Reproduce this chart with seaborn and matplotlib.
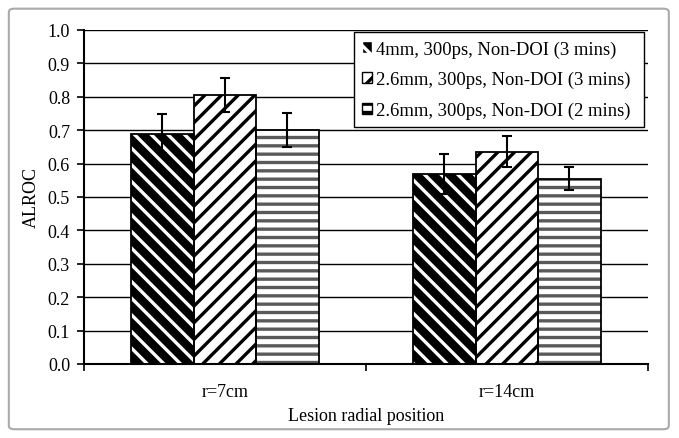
import numpy as np
import pandas as pd
import seaborn as sns
import matplotlib
matplotlib.use("Agg")
import matplotlib.pyplot as plt
import matplotlib.patches as patches
from matplotlib.ticker import FixedLocator

positions = ["r=7cm", "r=14cm"]
settings = ["4mm, 300ps, Non-DOI (3 mins)",
            "2.6mm, 300ps, Non-DOI (3 mins)",
            "2.6mm, 300ps, Non-DOI (2 mins)"]
# ALROC per setting, one value per position
alroc_4mm_3min = [0.69, 0.57]
alroc_26mm_3min = [0.805, 0.636]
alroc_26mm_2min = [0.70, 0.555]
# error bar half-widths
err_4mm_3min = [0.058, 0.06]
err_26mm_3min = [0.05, 0.046]
err_26mm_2min = [0.05, 0.035]
yticks = [0.0, 0.1, 0.2, 0.3, 0.4, 0.5, 0.6, 0.7, 0.8, 0.9, 1.0]

values = [alroc_4mm_3min, alroc_26mm_3min, alroc_26mm_2min]
errors = [err_4mm_3min, err_26mm_3min, err_26mm_2min]

df = pd.DataFrame({
    "position": positions * 3,
    "setting": [s for s in settings for _ in positions],
    "alroc": [v for vals in values for v in vals],
})

plt.rcParams["font.family"] = ["Liberation Serif", "DejaVu Serif"]
plt.rcParams["hatch.linewidth"] = 2.4

fig = plt.figure(figsize=(6.79, 4.39), dpi=100)
ax = fig.add_axes([0.1237, 0.1686, 0.8306, 0.7608])

sns.barplot(data=df, x="position", y="alroc", hue="setting", hue_order=settings,
            order=positions, width=0.665, errorbar=None, ax=ax,
            palette=["white"] * 3, edgecolor="black", linewidth=1.2, zorder=3)

# bar styles: face, hatch colour, hatch
styles = [("black", "white", "\\\\"), ("white", "black", "//"), ("white", "#5a5a5a", "--")]

bar_groups = list(ax.containers)
for i, cont in enumerate(bar_groups):
    face, hcol, hatch = styles[i]
    for j, bar in enumerate(cont):
        # edge colour drives the hatch colour; outline is drawn separately
        bar.set_facecolor(face)
        bar.set_hatch(hatch)
        bar.set_edgecolor(hcol)
        bar.set_linewidth(0)
        ax.add_patch(patches.Rectangle(bar.get_xy(), bar.get_width(), bar.get_height(),
                                       fill=False, edgecolor="black", linewidth=1.3, zorder=4))
        cx = bar.get_x() + bar.get_width() / 2
        ax.errorbar(cx, bar.get_height(), yerr=errors[i][j], color="black",
                    capsize=3.6, capthick=1.5, elinewidth=1.5, zorder=5)

ax.set_ylim(0, 1.0)
ax.set_xlim(-0.5, 1.5)
ax.set_yticks(yticks)
ax.set_yticklabels([f"{v:.1f}" for v in yticks])
ax.yaxis.grid(True, color="black", linewidth=1.0, zorder=0)
ax.set_axisbelow(True)
for s in ["top", "right"]:
    ax.spines[s].set_visible(False)
for s in ["left", "bottom"]:
    ax.spines[s].set_linewidth(1.5)
    ax.spines[s].set_color("black")
ax.spines["bottom"].set_zorder(6)

ax.tick_params(axis="y", length=5, width=1.2, direction="out", labelsize=13, pad=5)
ax.tick_params(axis="x", which="major", length=0, labelsize=13, pad=14)
ax.xaxis.set_minor_locator(FixedLocator([-0.5, 0.5, 1.5]))
ax.tick_params(axis="x", which="minor", length=5, width=1.2, direction="out")

ax.set_xlabel("Lesion radial position", fontsize=13, labelpad=5)
ax.set_ylabel("ALROC", fontsize=13, labelpad=6)

leg = ax.legend(loc="upper left", bbox_to_anchor=(0.475, 1.0, 0.522, 0.0), mode="expand",
                fontsize=13.4, frameon=True, fancybox=False, edgecolor="black", framealpha=1,
                handlelength=0.55, handleheight=0.55, handletextpad=0.2,
                labelspacing=0.72, borderpad=0.45, borderaxespad=0.1)
leg.get_frame().set_linewidth(1.0)
leg.set_zorder(10)
for h, (face, hcol, hatch) in zip(leg.legend_handles, styles):
    h.set_facecolor(face if face == "white" else "black")
    h.set_hatch(hatch)
    h.set_edgecolor("black" if face == "white" else "white")
    h.set_linewidth(1.0)

frame = patches.FancyBboxPatch((0.013, 0.02), 0.972, 0.958,
                               boxstyle="round,pad=0,rounding_size=0.008",
                               transform=fig.transFigure, fill=False,
                               edgecolor="#aaaaaa", linewidth=1.5)
fig.patches.append(frame)

fig.savefig("out.png", dpi=100)
